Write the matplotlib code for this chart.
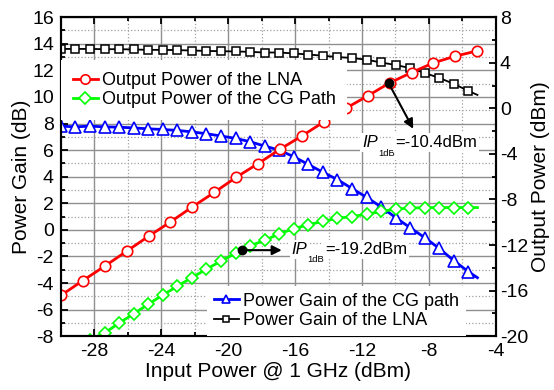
import numpy as np
import matplotlib
matplotlib.use("Agg")
import matplotlib.pyplot as plt
from matplotlib.ticker import MultipleLocator

plt.rcParams['font.family'] = ['Liberation Sans', 'DejaVu Sans']
plt.rcParams['axes.unicode_minus'] = False

# Input power sweep for the gain curves (last point drawn without a marker)
x_gain = [-30.0, -29.13, -28.26, -27.39, -26.52, -25.65, -24.78, -23.91, -23.04,
          -22.17, -21.30, -20.43, -19.56, -18.69, -17.82, -16.95, -16.08, -15.21,
          -14.34, -13.47, -12.60, -11.73, -10.86, -9.99, -9.12, -8.25, -7.38,
          -6.51, -5.64, -5.1]

# Power gain of the LNA (dB)
gain_lna = [13.61, 13.61, 13.61, 13.59, 13.59, 13.57, 13.54, 13.54, 13.52, 13.49,
            13.46, 13.44, 13.42, 13.39, 13.34, 13.34, 13.27, 13.19, 13.10, 13.00,
            12.93, 12.80, 12.59, 12.40, 12.17, 11.80, 11.43, 10.98, 10.45, 10.15]

# Power gain of the CG path (dB)
gain_cg = [7.80, 7.75, 7.80, 7.75, 7.72, 7.67, 7.60, 7.55, 7.48, 7.37,
           7.23, 7.06, 6.88, 6.63, 6.30, 6.00, 5.50, 4.92, 4.33, 3.78,
           3.11, 2.45, 1.73, 0.92, 0.16, -0.59, -1.40, -2.32, -3.15, -3.60]

# Output power of the CG path (dBm)
pout_cg = [-22.2, -21.4, -20.3, -19.72, -18.85, -18.03, -17.2, -16.38, -15.62, -14.85,
           -14.12, -13.4, -12.72, -12.07, -11.58, -11.02, -10.56, -10.22, -9.92, -9.65,
           -9.5, -9.3, -9.05, -8.85, -8.75, -8.72, -8.71, -8.71, -8.71, -8.71]

# Input power sweep and output power of the LNA (dBm)
x_lna_out = [-30.0, -28.69, -27.38, -26.07, -24.76, -23.45, -22.14, -20.83, -19.52,
             -18.21, -16.9, -15.59, -14.28, -12.97, -11.66, -10.35, -9.04, -7.73,
             -6.42, -5.11]
pout_lna = [-16.42, -15.12, -13.85, -12.54, -11.23, -9.97, -8.65, -7.38, -6.05,
            -4.85, -3.59, -2.42, -1.19, 0.0, 1.09, 2.23, 3.14, 3.99, 4.58, 5.04]

# 1-dB compression points (input power, dBm)
ip1db_lna = -10.4
ip1db_cg = -19.2

fig = plt.figure(figsize=(5.54, 3.90), dpi=100)
ax = fig.add_axes([0.110, 0.138, 0.785, 0.818])
ax2 = ax.twinx()

mk_every = slice(0, len(x_gain) - 1)
ln_cg, = ax.plot(x_gain, gain_cg, color='#0000ff', lw=2.0, marker='^', ms=8,
                 mfc='white', mec='#0000ff', mew=1.2, markevery=mk_every,
                 label='Power Gain of the CG path')
ln_lna, = ax.plot(x_gain, gain_lna, color='black', lw=1.3, marker='s', ms=5.6,
                  mfc='white', mec='black', mew=1.1, markevery=mk_every,
                  label='Power Gain of the LNA')

lo_lna, = ax2.plot(x_lna_out, pout_lna, color='#ff0000', lw=2.0, marker='o', ms=7.5,
                   mfc='white', mec='#ff0000', mew=1.2,
                   label='Output Power of the LNA')
lo_cg, = ax2.plot(x_gain, pout_cg, color='#00ff00', lw=2.0, marker='D', ms=6.3,
                  mfc='white', mec='#00ff00', mew=1.2, markevery=mk_every,
                  label='Output Power of the CG Path')

ax.set_xlim(-30, -4)
ax.set_ylim(-8, 16)
ax2.set_ylim(-20, 8)

ax.xaxis.set_minor_locator(MultipleLocator(2))
ax.set_xticks([-28, -24, -20, -16, -12, -8, -4])
ax.yaxis.set_major_locator(MultipleLocator(2))
ax.yaxis.set_minor_locator(MultipleLocator(1))
ax2.yaxis.set_major_locator(MultipleLocator(4))
ax2.yaxis.set_minor_locator(MultipleLocator(2))

ax.grid(which='major', color='#8f8f8f', lw=1.0, ls='-')
ax.grid(which='minor', color='#a0a0a0', lw=0.9, ls=':')
ax.set_axisbelow(True)

for a in (ax, ax2):
    for s in a.spines.values():
        s.set_linewidth(1.5)
ax.tick_params(axis='x', which='both', direction='in', top=True, width=1.3,
               labelsize=14, pad=5)
ax.tick_params(axis='y', which='both', direction='in', width=1.3, labelsize=14, pad=5)
ax2.tick_params(axis='y', which='both', direction='in', width=1.3, labelsize=14, pad=3)
for a in (ax, ax2):
    a.tick_params(which='major', length=5)
    a.tick_params(which='minor', length=3)

ax.set_xlabel('Input Power @ 1 GHz (dBm)', fontsize=15, labelpad=1)
ax.set_ylabel('Power Gain (dB)', fontsize=15, labelpad=1)
ax2.set_ylabel('Output Power (dBm)', fontsize=15, labelpad=2)

leg_kw = dict(fontsize=13, frameon=True, facecolor='white', edgecolor='none',
              framealpha=1, fancybox=False, handlelength=1.4, handletextpad=0.2,
              borderaxespad=0.0, labelspacing=0.12)
leg1 = ax2.legend(handles=[lo_lna, lo_cg], loc='upper left', bbox_to_anchor=(0.0, 0.865),
                  markerscale=0.9, borderpad=0.65, **leg_kw)
ax2.add_artist(leg1)
leg2 = ax2.legend(handles=[ln_cg, ln_lna], loc='lower left', bbox_to_anchor=(0.335, 0.0),
                  markerscale=0.75, **leg_kw)


def ip_label(x, y, sub, tail):
    """Italic IP, small subscript and the value, each on a white patch."""
    kw = dict(xy=(x, y), xycoords='data', textcoords='offset points',
              ha='left', va='baseline', zorder=4,
              bbox=dict(fc='white', ec='none', pad=1.5))
    ax2.annotate('IP', xytext=(0, 0), fontsize=12, style='italic', **kw)
    ax2.annotate(sub, xytext=(11.4, -6.3), fontsize=6.8, **kw)
    ax2.annotate(tail, xytext=(24.0, 0), fontsize=12, **kw)


# IP1dB of the LNA
y_lna = np.interp(ip1db_lna, x_lna_out, pout_lna)
ax2.plot([ip1db_lna], [y_lna], 'o', color='black', ms=6, zorder=5)
ax2.annotate('', xy=(-8.94, -1.8), xytext=(ip1db_lna, y_lna),
             arrowprops=dict(arrowstyle='-|>', color='black', lw=1.5, mutation_scale=14,
                             shrinkA=0, shrinkB=0), zorder=5)
ip_label(-12.0, -3.39, '1dB', '=-10.4dBm')

# IP1dB of the CG path
y_cg = np.interp(ip1db_cg, x_gain, pout_cg)
ax2.plot([ip1db_cg], [y_cg], 'o', color='black', ms=6, zorder=5)
ax2.annotate('', xy=(-16.8, y_cg), xytext=(ip1db_cg, y_cg),
             arrowprops=dict(arrowstyle='-|>', color='black', lw=1.5, mutation_scale=14,
                             shrinkA=0, shrinkB=0), zorder=5)
ip_label(-16.2, y_cg - 0.3, '1dB', '=-19.2dBm')

fig.savefig('out.png', dpi=100)
